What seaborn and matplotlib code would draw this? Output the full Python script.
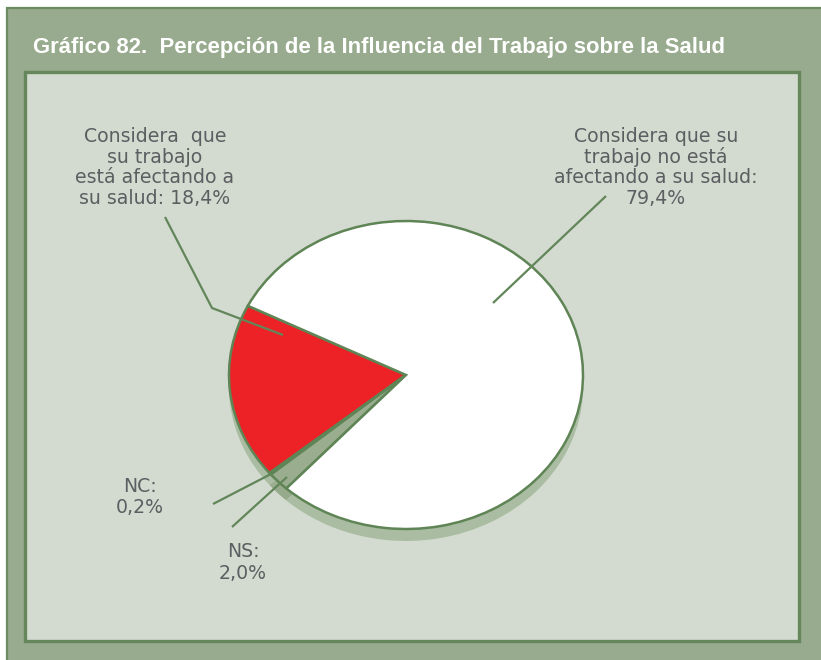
import matplotlib
matplotlib.use("Agg")
import matplotlib.pyplot as plt
from matplotlib.patches import Rectangle
import seaborn as sns

# ---- data -------------------------------------------------------------
title = "Gráfico 82.  Percepción de la Influencia del Trabajo sobre la Salud"
categories = ["Afecta", "NC", "NS", "No afecta"]
shares = [18.4, 0.2, 2.0, 79.4]


def pct(v):
    return f"{v:.1f}%".replace(".", ",")


label_lines = [
    ["Considera  que", "su trabajo", "está afectando a", f"su salud: {pct(shares[0])}"],
    ["NC:", pct(shares[1])],
    ["NS:", pct(shares[2])],
    ["Considera que su", "trabajo no está", "afectando a su salud:", pct(shares[3])],
]

# ---- style ------------------------------------------------------------
sns.set_theme(style="white")
plt.rcParams["font.family"] = ["DejaVu Sans"]

W, H = 821, 660
FRAME_BG = "#98ab8e"
FRAME_EDGE = "#6c8b60"
PANEL_BG = "#d3dbd0"
PANEL_EDGE = "#66875b"
LINE_GREEN = "#628659"
TEXT_GRAY = "#5b5f61"
slice_colors = ["#ec2227", "#9aae8f", "#9aae8f", "#ffffff"]
depth_colors = ["#aabda2", "#97ab8c", "#97ab8c", "#aabda2"]

fig = plt.figure(figsize=(W / 100, H / 100), dpi=100)
fig.patch.set_facecolor("white")

# background layer in pixel coordinates
ax_bg = fig.add_axes([0, 0, 1, 1], zorder=0)
ax_bg.set_xlim(0, W)
ax_bg.set_ylim(H, 0)
ax_bg.axis("off")
ax_bg.add_patch(Rectangle((7, 8), 840, 680, facecolor=FRAME_BG,
                          edgecolor=FRAME_EDGE, linewidth=1.6))
ax_bg.add_patch(Rectangle((25, 72), 774, 569, facecolor=PANEL_BG,
                          edgecolor=PANEL_EDGE, linewidth=2.4))

# ---- pie (tilted, drawn as an ellipse) -------------------------------
cx, cy = 406, 375      # centre in pixels (from top)
a, b = 177, 154        # horizontal / vertical semi-axes in pixels
span = 1.3
ax_pie = fig.add_axes([(cx - span * a) / W, (H - cy - span * b) / H,
                       2 * span * a / W, 2 * span * b / H], zorder=1)
ax_pie.patch.set_alpha(0)

start = 153.3
depth = 12 / b
ax_pie.pie(shares, colors=depth_colors, startangle=start, counterclock=True,
           center=(0, -depth), radius=1,
           wedgeprops=dict(linewidth=0))
ax_pie.pie(shares, colors=slice_colors, startangle=start, counterclock=True,
           radius=1,
           wedgeprops=dict(edgecolor="#5f8455", linewidth=1.8,
                           joinstyle="miter"))
ax_pie.set_aspect("auto")
ax_pie.set_xlim(-span, span)
ax_pie.set_ylim(-span, span)
ax_pie.axis("off")

# ---- overlay: title, leader lines, labels ----------------------------
ax = fig.add_axes([0, 0, 1, 1], zorder=2)
ax.patch.set_alpha(0)
ax.set_xlim(0, W)
ax.set_ylim(H, 0)
ax.axis("off")

renderer = fig.canvas.get_renderer()

t = ax.text(33, 53, title, color="white", fontsize=15, fontweight="bold",
            family=["Liberation Sans", "DejaVu Sans"], ha="left", va="baseline")
w = t.get_window_extent(renderer).width
t.set_fontsize(15 * 694 / w)

probe = ax.text(0, 0, "afectando a su salud:", fontsize=14)
lab_fs = 14 * 204 / probe.get_window_extent(renderer).width
probe.remove()

leaders = [
    [(165, 217), (212, 308), (283, 335)],
    [(213, 504), (271, 474)],
    [(232, 527), (287, 477)],
    [(606, 196), (493, 303)],
]
for pts in leaders:
    xs, ys = zip(*pts)
    ax.plot(xs, ys, color=LINE_GREEN, linewidth=1.6, solid_capstyle="butt")

label_anchor = [(155, 142), (140, 492), (243, 557), (656, 142)]
line_step = [20.6, 21, 22, 20.6]
for lines, (lx, ly), step in zip(label_lines, label_anchor, line_step):
    for i, s in enumerate(lines):
        ax.text(lx, ly + i * step, s, color=TEXT_GRAY, fontsize=lab_fs,
                ha="center", va="baseline")

fig.savefig("out.png", dpi=100)
